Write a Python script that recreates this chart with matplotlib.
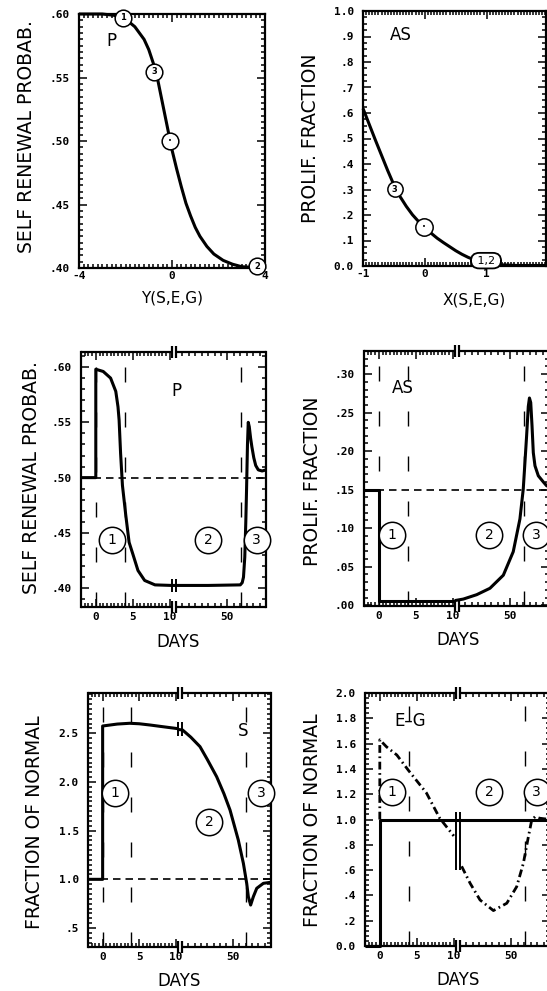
import numpy as np
import matplotlib
matplotlib.use("Agg")
import matplotlib.pyplot as plt
from matplotlib.ticker import FixedLocator, MultipleLocator

plt.rcParams['font.family'] = ['DejaVu Sans']
plt.rcParams['lines.solid_capstyle'] = 'butt'

# ------------------------------------------------------------------
# Control functions (steady-state relations)
# ------------------------------------------------------------------
y_arg = [-4.0, -3.0, -2.5, -2.0, -1.6, -1.2, -1.0, -0.8, -0.6, -0.4, -0.2, 0.0,
         0.2, 0.4, 0.6, 0.8, 1.0, 1.2, 1.5, 1.8, 2.2, 2.6, 3.0, 4.0]
p_of_y = [.600, .600, .599, .596, .590, .580, .572, .561, .547, .529, .511, .493,
          .478, .464, .451, .441, .432, .425, .417, .411, .406, .403, .401, .400]

x_arg = [-1.0, -0.9, -0.8, -0.7, -0.6, -0.5, -0.4, -0.3, -0.2, -0.1, 0.0,
         0.1, 0.2, 0.3, 0.4, 0.5, 0.6, 0.7, 0.8, 0.9, 1.0, 1.2, 1.5, 2.0]
as_of_x = [.618, .556, .494, .434, .374, .318, .272, .234, .201, .174, .151,
           .129, .109, .092, .076, .060, .046, .034, .024, .016, .011, .005, .002, .002]

# ------------------------------------------------------------------
# Time courses in days: "_a" = days up to the axis break, "_b" = after it
# ------------------------------------------------------------------
p_days_a = [-2.0, 0.0, 0.0, 0.5, 1.0, 2.0, 2.7, 3.0, 3.15, 3.35, 3.6, 4.05, 4.5, 5.0, 5.7, 6.6, 8.0, 10.25]
p_vals_a = [.500, .500, .598, .597, .596, .590, .578, .564, .552, .522, .493, .466, .4415, .431, .416, .407, .403, .4025]
p_days_b = [10.25, 35.0, 60.0, 61.5, 62.5, 63.5, 64.3, 64.9, 65.6, 66.2, 67.0, 68.0, 69.0, 70.5, 72.0, 74.0, 77.0, 80.0]
p_vals_b = [.4025, .4025, .403, .405, .410, .428, .460, .490, .530, .550, .546, .536, .528, .518, .511, .507, .506, .507]

as_days_a = [-2.0, 0.0, 0.0, 10.25]
as_vals_a = [.150, .150, .005, .005]
as_days_b = [10.25, 13.4, 23.8, 34.1, 44.5, 52.2, 57.4, 60.0, 62.6, 63.9, 64.8, 65.8, 66.8, 67.8, 69.1, 71.7, 75.6, 78.2, 80.0]
as_vals_b = [.006, .008, .0137, .022, .039, .0695, .112, .151, .220, .258, .269, .263, .233, .198, .181, .168, .160, .155, .154]

s_days_a = [-2.0, 0.0, 0.0, 1.0, 2.0, 3.7, 5.0, 6.5, 8.0, 10.25]
s_vals_a = [1.0, 1.0, 2.575, 2.585, 2.595, 2.603, 2.598, 2.585, 2.570, 2.548]
s_days_b = [10.25, 10.5, 17.0, 24.2, 30.0, 37.3, 43.0, 47.8, 54.3, 58.3, 60.9, 62.2, 64.0, 66.1, 68.8, 74.0, 80.0]
s_vals_b = [2.540, 2.534, 2.460, 2.363, 2.230, 2.054, 1.880, 1.712, 1.404, 1.164, .959, .821, .736, .821, .908, .959, .970]

e_days_a = [-2.0, 0.0, 0.0, 10.25]
e_vals_a = [0.0, 0.0, 1.0, 1.0]
e_days_b = [10.25, 80.0]
e_vals_b = [1.0, 1.0]
g_days_a = [0.0, 0.0, 0.9, 2.3, 3.85, 6.3, 8.1, 10.0]
g_vals_a = [1.0, 1.63, 1.575, 1.51, 1.39, 1.21, 1.01, .87]
g_days_b = [11.3, 17.9, 25.6, 36.0, 46.4, 54.1, 59.3, 63.2, 65.8, 68.4, 72.0, 80.0]
g_vals_b = [.63, .496, .364, .28, .338, .469, .654, .864, .996, 1.022, 1.01, 1.0]

phase_days = [0.0, 3.9, 60.3]
day_ticks = [0, 5, 10, 50]
day_tick_labels = ['0', '5', '10', '50']

# ------------------------------------------------------------------
# Figure helpers
# ------------------------------------------------------------------
W, H = 547.0, 991.0
fig = plt.figure(figsize=(W / 100, H / 100), dpi=100)
fig.patch.set_facecolor('white')

TICK_FONT = dict(family='DejaVu Sans Mono', weight='bold', size=8)
LABEL_FONT = dict(family='DejaVu Sans', size=13.5)
CURVE_LW = 2.2
GAP = (0.49, 0.515)

# broken time axis: piecewise-linear day scale
SEG_DAYS = [-2.0, 10.25, 10.2501, 80.0]
SEG_FRAC = [0.0, 0.49, 0.515, 1.0]


def day_to_frac(d):
    return np.interp(d, SEG_DAYS, SEG_FRAC)


def frac_to_day(u):
    return np.interp(u, SEG_FRAC, SEG_DAYS)


def panel(l, t, r, b):
    ax = fig.add_axes([l / W, 1 - b / H, (r - l) / W, (b - t) / H])
    ax.set_facecolor('white')
    for s in ax.spines.values():
        s.set_linewidth(1.6)
    ax.tick_params(which='both', direction='in', top=True, right=True,
                   bottom=True, left=True, width=1.1, color='black',
                   labelcolor='black')
    ax.tick_params(which='major', length=6)
    ax.tick_params(which='minor', length=3.2)
    ax.tick_params(axis='y', which='major', pad=6.5)
    ax.tick_params(axis='x', which='major', pad=3.5)
    return ax


def labels(ax, ylab, ypos, xlab, xpos, xfont=None):
    ax.set_ylabel(ylab, **LABEL_FONT)
    ax.yaxis.label.set_verticalalignment('center')
    ax.yaxis.set_label_coords(*ypos)
    ax.set_xlabel(xlab, **(xfont or LABEL_FONT))
    ax.xaxis.label.set_verticalalignment('center')
    ax.xaxis.set_label_coords(*xpos)


def timeline(ax):
    ax.set_xscale('function', functions=(day_to_frac, frac_to_day))
    ax.set_xlim(SEG_DAYS[0], SEG_DAYS[-1])
    ax.set_xticks(day_ticks, day_tick_labels, **TICK_FONT)
    minor = list(np.arange(-1.5, 10.01, 0.5)) + list(range(15, 80, 5))
    ax.xaxis.set_minor_locator(FixedLocator(minor))
    # frame with the axis break
    ax.spines['top'].set_visible(False)
    ax.spines['bottom'].set_visible(False)
    kw = dict(transform=ax.transAxes, color='black', lw=1.6, clip_on=False, zorder=4)
    for yy in (0.0, 1.0):
        ax.plot([0, GAP[0]], [yy, yy], **kw)
        ax.plot([GAP[1], 1], [yy, yy], **kw)
        for gx in GAP:
            ax.plot([gx, gx], [yy - 0.024, yy + 0.024], **kw)


def curve_break(ax, lo, hi):
    tr = ax.get_yaxis_transform()
    for gx in GAP:
        ax.plot([gx, gx], [lo, hi], transform=tr, color='black', lw=1.4, zorder=4)


def phase_lines(ax, ylim, days):
    for d in days:
        ax.plot([d, d], ylim, color='black', lw=1.0, ls=(0, (10.8, 21.6)), zorder=2)


def reference(ax, v):
    ax.axhline(v, color='black', lw=1.2, ls=(0, (4.5, 3.0)), zorder=2)


def circled(ax, x, y, s, trans=None, ms=19, fs=10, weight='normal'):
    trans = ax.transData if trans is None else trans
    ax.plot([x], [y], ls='none', marker='o', ms=ms, mfc='white', mec='black',
            mew=1.1, transform=trans, zorder=6, clip_on=False)
    ax.text(x, y, s, transform=trans, ha='center', va='center', fontsize=fs,
            fontweight=weight, zorder=7, clip_on=False)


# ------------------------------------------------------------------
# Top left: P vs Y(S,E,G)
# ------------------------------------------------------------------
ax = panel(79, 14, 265, 268)
ax.plot(y_arg, p_of_y, color='black', lw=CURVE_LW, zorder=3, clip_on=False)
ax.set_xlim(-4, 4)
ax.set_ylim(.40, .60)
ax.set_xticks([-4, 0, 4], ['-4', '0', '4'], **TICK_FONT)
ax.set_yticks([.40, .45, .50, .55, .60], ['.40', '.45', '.50', '.55', '.60'], **TICK_FONT)
ax.xaxis.set_minor_locator(MultipleLocator(0.2))
ax.yaxis.set_minor_locator(MultipleLocator(0.005))
ax.tick_params(axis='x', which='major', pad=2.5)
circled(ax, -2.1, .5972, '1', ms=12, fs=6, weight='bold')
circled(ax, -0.76, .5547, '3', ms=12, fs=6, weight='bold')
circled(ax, -0.09, .500, '\u2022', ms=12, fs=5)
circled(ax, 3.65, .4012, '2', ms=12, fs=6, weight='bold')
ax.text(-2.6, .579, 'P', fontsize=12, ha='center', va='center')
labels(ax, 'SELF RENEWAL PROBAB.', (-0.28, 0.516), 'Y(S,E,G)', (0.5, -0.118),
       xfont=dict(family='DejaVu Sans', size=11))

# ------------------------------------------------------------------
# Top right: AS vs X(S,E,G)
# ------------------------------------------------------------------
ax = panel(363, 11, 546, 266)
ax.plot(x_arg, as_of_x, color='black', lw=CURVE_LW, zorder=3, clip_on=False)
ax.set_xlim(-1, 1.96)
ax.set_ylim(0, 1.0)
ax.set_xticks([-1, 0, 1], ['-1', '0', '1'], **TICK_FONT)
ax.set_yticks(np.arange(0, 1.01, 0.1),
              ['0.0', '.1', '.2', '.3', '.4', '.5', '.6', '.7', '.8', '.9', '1.0'], **TICK_FONT)
ax.xaxis.set_minor_locator(MultipleLocator(0.05))
ax.yaxis.set_minor_locator(MultipleLocator(0.025))
ax.tick_params(axis='x', which='major', pad=2.5)
circled(ax, -0.485, .301, '3', ms=11, fs=6, weight='bold')
circled(ax, -0.01, .153, '\u2022', ms=12.5, fs=5)
ax.text(0.99, .021, ' 1,2 ', fontsize=8, ha='center', va='center', zorder=7,
        bbox=dict(boxstyle='round,pad=0.25,rounding_size=0.75', fc='white', ec='black', lw=1.3))
ax.text(-0.39, .906, 'AS', fontsize=12, ha='center', va='center')
labels(ax, 'PROLIF. FRACTION', (-0.286, 0.502), 'X(S,E,G)', (0.609, -0.133),
       xfont=dict(family='DejaVu Sans', size=11))

# ------------------------------------------------------------------
# Middle left: P time course
# ------------------------------------------------------------------
ax = panel(81, 352, 266, 607)
ylim = (.383, .6136)
timeline(ax)
reference(ax, .50)
phase_lines(ax, ylim, phase_days)
ax.plot(p_days_a, p_vals_a, color='black', lw=CURVE_LW, zorder=3)
ax.plot(p_days_b, p_vals_b, color='black', lw=CURVE_LW, zorder=3)
curve_break(ax, .3965, .4085)
ax.set_yticks([.40, .45, .50, .55, .60], ['.40', '.45', '.50', '.55', '.60'], **TICK_FONT)
ax.yaxis.set_minor_locator(MultipleLocator(0.01))
tr = ax.get_yaxis_transform()
for xf, s in [(.166, '1'), (.688, '2'), (.95, '3')]:
    circled(ax, xf, .4434, s, trans=tr)
ax.text(.514, .578, 'P', transform=tr, fontsize=12, ha='center', va='center')
ax.set_ylim(*ylim)
labels(ax, 'SELF RENEWAL PROBAB.', (-0.265, 0.506), 'DAYS', (0.522, -0.137),
       xfont=dict(family='DejaVu Sans', size=12))

# ------------------------------------------------------------------
# Middle right: AS time course
# ------------------------------------------------------------------
ax = panel(364, 351, 549, 606)
ylim = (-0.001, 0.33)
timeline(ax)
reference(ax, .15)
phase_lines(ax, ylim, phase_days)
ax.plot(as_days_a, as_vals_a, color='black', lw=CURVE_LW, zorder=3)
ax.plot(as_days_b, as_vals_b, color='black', lw=CURVE_LW, zorder=3)
ax.set_yticks([0, .05, .10, .15, .20, .25, .30],
              ['.00', '.05', '.10', '.15', '.20', '.25', '.30'], **TICK_FONT)
ax.yaxis.set_minor_locator(MultipleLocator(0.01))
tr = ax.get_yaxis_transform()
for xf, s in [(.15, '1'), (.676, '2'), (.932, '3')]:
    circled(ax, xf, .0918, s, trans=tr)
ax.text(.212, .282, 'AS', transform=tr, fontsize=12, ha='center', va='center')
ax.set_ylim(*ylim)
labels(ax, 'PROLIF. FRACTION', (-0.281, 0.49), 'DAYS', (0.508, -0.133),
       xfont=dict(family='DejaVu Sans', size=12))

# ------------------------------------------------------------------
# Bottom left: S time course
# ------------------------------------------------------------------
ax = panel(88, 693, 271, 947)
ylim = (.305, 2.914)
timeline(ax)
reference(ax, 1.0)
phase_lines(ax, ylim, phase_days)
ax.plot(s_days_a, s_vals_a, color='black', lw=CURVE_LW, zorder=3)
ax.plot(s_days_b, s_vals_b, color='black', lw=CURVE_LW, zorder=3)
curve_break(ax, 2.47, 2.62)
ax.set_yticks([.5, 1.0, 1.5, 2.0, 2.5], ['.5', '1.0', '1.5', '2.0', '2.5'], **TICK_FONT)
ax.yaxis.set_minor_locator(MultipleLocator(0.05))
tr = ax.get_yaxis_transform()
for xf, yv, s in [(.148, 1.884, '1'), (.663, 1.592, '2'), (.945, 1.884, '3')]:
    circled(ax, xf, yv, s, trans=tr)
ax.text(.845, 2.52, 'S', transform=tr, fontsize=12, ha='center', va='center')
ax.set_ylim(*ylim)
labels(ax, 'FRACTION OF NORMAL', (-0.29, 0.492), 'DAYS', (0.497, -0.134),
       xfont=dict(family='DejaVu Sans', size=12))

# ------------------------------------------------------------------
# Bottom right: E and G time courses
# ------------------------------------------------------------------
ax = panel(365, 693, 550, 946)
ylim = (0.0, 2.0)
timeline(ax)
phase_lines(ax, ylim, phase_days[1:])
ax.plot(e_days_a, e_vals_a, color='black', lw=CURVE_LW, zorder=3, clip_on=False)
ax.plot(e_days_b, e_vals_b, color='black', lw=CURVE_LW, zorder=3)
dashdot = (0, (2.8, 1.3, 0.6, 1.3))
ax.plot(g_days_a, g_vals_a, color='black', lw=2.0, ls=dashdot, zorder=3)
ax.plot(g_days_b, g_vals_b, color='black', lw=2.0, ls=dashdot, zorder=3)
curve_break(ax, 0.60, 1.06)
ax.set_yticks(np.arange(0, 2.01, 0.2),
              ['0.0', '.2', '.4', '.6', '.8', '1.0', '1.2', '1.4', '1.6', '1.8', '2.0'], **TICK_FONT)
ax.yaxis.set_minor_locator(MultipleLocator(0.04))
tr = ax.get_yaxis_transform()
for xf, s in [(.144, '1'), (.67, '2'), (.928, '3')]:
    circled(ax, xf, 1.22, s, trans=tr)
ax.text(.243, 1.78, 'E\u2013G', transform=tr, fontsize=12, ha='center', va='center')
ax.set_ylim(*ylim)
labels(ax, 'FRACTION OF NORMAL', (-0.286, 0.498), 'DAYS', (0.503, -0.134),
       xfont=dict(family='DejaVu Sans', size=12))

fig.savefig('out.png', dpi=100, facecolor='white')
